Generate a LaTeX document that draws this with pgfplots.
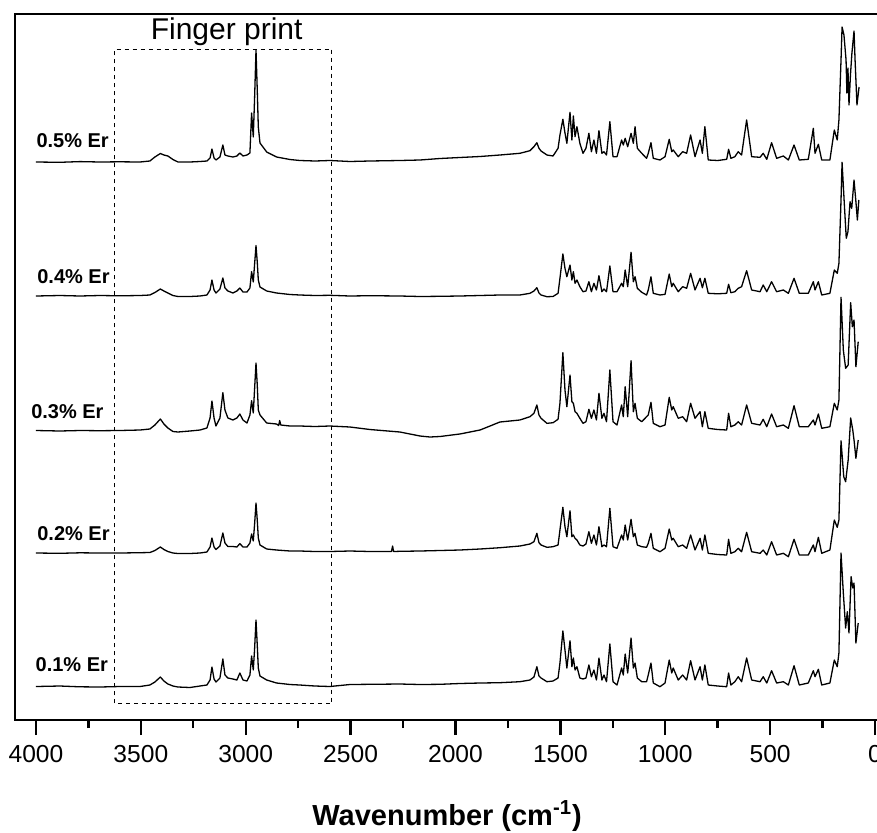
\documentclass[border=0pt]{standalone}
\usepackage{pgfplots}
\pgfplotsset{compat=1.18}
\usepackage{pgfplotstable}
\usepackage{fontspec}
\setmainfont{Liberation Sans}

% y = offset intensity (a.u.)
\pgfplotstableread{
x y
4000 558
3886 557.7
3790 558.4
3695 558
3600 558.2
3504 558
3457 559
3433 563
3407 566.5
3390 565
3371 564
3347 560.5
3323 558
3266 558
3218 558.5
3185 559
3170 562
3161 571
3151 562
3142 560
3123 563
3109 575
3099 565
3085 564
3061 563
3042 564
3028 567
3013 564
2994 565
2980 567
2972 607
2964 583
2958 620
2951 670
2945 630
2940 593
2932 577
2900 568
2853 563
2789 560.5
2742 559.5
2670 559
2599 559.5
2503 558.5
2408 559
2265 559.5
2169 560
2074 561.5
1979 562.5
1883 563.5
1788 565
1693 566.7
1645 569.3
1626 573.3
1612 577.3
1602 571.7
1592 569
1564 565
1535 564
1511 571.7
1502 585
1488 600.7
1478 587
1469 576.7
1454 607.7
1445 580
1438 604
1430 583.3
1421 593.3
1407 576.7
1392 566.7
1378 571.7
1364 586.7
1352 568.3
1340 580
1328 566.7
1316 589.3
1302 566.7
1292 568.3
1280 565
1264 598.3
1249 563.3
1230 563.3
1208 580
1200 575
1191 581.7
1179 573.3
1163 586.7
1152 576.7
1144 593.3
1133 571.7
1112 566.7
1089 561.7
1081 566.7
1068 577.3
1057 561.7
1025 560
1001 563.3
981 580.7
969 568.3
962 570
938 563.3
917 568.3
898 566.7
879 585
858 563.3
834 580
823 566.7
811 593.3
795 560
750 559.5
707 560.7
698 570.7
687 561.7
668 563.3
652 568.3
636 565
612 600
588 563.3
548 562.7
533 566.7
516 560.7
493 577.3
469 561.7
437 564
413 560
386 575
361 560
318 560.7
294 591.7
286 566.7
270 575.7
254 560
215 560
194 590
180 580
172 600
162 660
157 693
148 685
138 660
134 627
129 652
124 615
117 645
110 667
100 689
95 660
86 615
76 633
}\tabE

\pgfplotstableread{
x y
4000 424
3886 424.5
3790 424
3695 424.5
3600 424.2
3504 424.5
3457 425
3433 427.5
3407 431
3390 429
3371 427
3347 424.5
3323 423.5
3266 423.5
3218 424
3185 425
3170 430
3161 440
3151 430
3142 427
3123 431
3109 442
3099 432
3085 429
3061 427
3042 429
3028 432
3013 428
2994 428
2980 432
2972 448.4
2964 438
2958 455
2951 474.4
2945 458
2940 440
2932 433
2900 429
2853 427
2789 425.5
2742 425
2670 424.5
2599 424.7
2503 424
2408 424.3
2265 424
2169 423.5
2074 423.7
1979 424
1883 424.5
1788 425
1693 425
1645 426.7
1626 429
1612 432.3
1602 427
1592 425
1564 423.3
1535 423.5
1511 426.7
1502 441.7
1488 466
1478 451.7
1469 443.3
1454 455
1445 440
1438 448.3
1430 436.7
1421 440
1407 433.3
1392 428.3
1378 429
1364 438.3
1352 428.3
1340 436.7
1328 430
1316 444.3
1302 428.3
1292 431
1280 428.3
1264 454
1249 428.3
1230 428.3
1208 436.7
1200 433.3
1191 450
1179 433.3
1163 467.7
1152 438.3
1144 443.3
1133 431.7
1112 427.7
1089 425
1081 430
1068 443.3
1057 426.7
1025 425
1001 425.7
981 446
969 433.3
962 436.7
938 428.3
917 433.3
898 431.7
879 446.7
858 430
834 441.7
823 432.3
811 441.7
795 426.7
750 426.2
707 426.7
698 435.7
687 427.3
668 428.3
652 431.7
636 433.3
612 449.3
588 430
548 428.3
533 435
516 428.3
493 438.3
469 428.3
437 430
413 426.7
386 441.7
361 426.7
318 426.7
294 438.3
286 430
270 438.3
254 425
215 426.7
194 450
180 446.7
172 456.7
162 520
157 557.7
146 515
137 481.7
129 488.3
119 518.3
111 511.7
100 540
91 518.3
84 500
77 520
}\tabD

\pgfplotstableread{
x y
4000 289.5
3886 289
3790 289.5
3695 289.3
3600 289.5
3504 290
3457 291
3433 295
3407 301
3390 296
3371 292
3347 288.5
3323 288
3266 289
3218 290
3185 292
3170 302
3161 319
3151 302
3142 294
3123 302
3109 327.3
3099 310
3085 302
3061 300
3042 302
3028 306
3013 300
2994 297
2980 305
2972 319.3
2964 307
2958 330
2951 357
2945 335
2940 310
2932 305
2900 297
2853 296
2843 294.5
2838 299.5
2833 295
2789 294
2742 294
2670 293.5
2599 294
2503 293
2408 290.5
2265 288
2169 284
2122 283
2074 283.5
1979 286
1883 290
1788 298
1693 300
1645 303.3
1626 306.7
1612 315
1602 305
1592 301.7
1564 296.7
1535 297.3
1511 300.7
1502 316.7
1488 367.3
1478 330
1469 313.3
1454 345
1445 318.3
1438 316.7
1430 308.3
1421 306.7
1407 301.7
1392 296.7
1378 298.3
1364 310.7
1352 301.7
1340 310
1328 300
1316 326.7
1302 301.7
1292 306.7
1280 298.3
1264 350
1249 298.3
1230 295
1208 315
1200 303.3
1191 333.3
1179 303.3
1163 359.3
1152 308.3
1144 316.7
1133 301.7
1112 298.3
1089 303.3
1081 305
1068 317.7
1057 296.7
1025 293.3
1001 295
981 322.7
969 310
962 313.3
938 301.7
917 303.3
898 298.3
879 316.7
858 301.7
834 308.3
823 293.3
811 308.3
795 291.7
750 290.5
707 290
698 306.7
687 293.3
668 295
652 298.3
636 295
612 315
588 296.7
548 295
533 300.7
516 293.3
493 306
469 293.3
437 295
413 291.7
386 314.3
361 293.3
318 293.3
294 300
286 295
270 306
254 291.7
215 293.3
194 316.7
180 310
172 320
162 422.7
151 370
140 351.7
128 355
116 417.3
108 393.3
100 400
91 353.3
80 378.3
}\tabC

\pgfplotstableread{
x y
4000 167
3886 166.7
3790 167.2
3695 167
3600 167
3504 167.3
3457 167.5
3433 169.5
3407 173
3390 170.5
3371 168.5
3347 167
3323 166.5
3266 166.5
3218 167
3185 168
3170 173
3161 182
3151 173
3142 170.5
3123 174
3109 187
3099 177
3085 173.5
3061 173.5
3042 173
3028 176.4
3013 173
2994 173
2980 177
2972 186
2964 179
2958 195
2951 217
2945 200
2940 182
2932 175
2900 171
2853 170
2789 169
2742 169
2670 168.5
2599 168.5
2503 169
2408 168.5
2305 168.5
2300 174
2295 168.5
2265 168.7
2169 169
2074 169.5
1979 170
1883 171
1788 172.3
1693 174
1645 176
1626 178.3
1612 186.7
1602 177.3
1592 175
1564 172.7
1535 173.3
1511 175
1502 190
1488 212.7
1478 193.3
1469 183.3
1454 209.3
1445 183.3
1438 185
1430 181.7
1421 180
1407 175
1392 174
1378 176
1364 188.3
1352 176.7
1340 185
1328 175
1316 193.3
1302 173.3
1292 175
1280 173.3
1264 211.7
1249 173.3
1230 171.7
1208 185
1200 180
1191 195
1179 180
1163 200.7
1152 183.3
1144 186.7
1133 175
1112 173.3
1089 172.7
1081 176.7
1068 186.7
1057 171.7
1025 168.3
1001 171.7
981 191
969 180
962 181.7
938 173.3
917 175
898 171.7
879 185
858 170
834 181.7
823 170
811 185
795 166.7
750 165.5
707 165
698 180.7
687 166.7
668 168.3
652 171.7
636 168.3
612 187.7
588 168.3
548 166.7
533 170
516 165
493 178.3
469 165
437 166.7
413 163.3
386 180.7
361 165
318 165
294 175
286 168.3
270 182.7
254 166.7
215 170
194 200
180 192.7
172 200
162 279.3
149 243.3
140 238.3
128 260
116 302
106 290
100 280
91 261.7
80 280
}\tabB

\pgfplotstableread{
x y
4000 33.5
3886 34
3790 33.2
3695 33
3600 33.5
3504 33.5
3457 35
3433 38
3407 43
3390 39
3371 36
3347 34
3323 33
3266 32.5
3218 34
3185 35
3170 40
3161 53
3151 41
3142 38
3123 42
3109 61
3099 45
3085 42
3061 41
3042 40
3028 47
3013 40
2994 39
2980 45
2972 64
2964 50
2958 70
2951 100
2945 75
2940 52
2932 44
2900 40
2853 37
2789 35.5
2742 35
2670 34
2599 33.5
2503 35.5
2408 35.7
2265 36
2169 35.5
2074 35.7
1979 36.5
1883 37
1788 37.3
1693 38.3
1645 40
1626 43
1612 53.3
1602 44
1592 42
1564 38.3
1535 39
1511 42
1502 57
1488 89
1478 70
1469 52
1454 79.3
1445 53.3
1438 62
1430 50
1421 53.3
1407 42
1392 41
1378 42
1364 55
1352 43.3
1340 50
1328 40
1316 62
1302 40
1292 45
1280 38.3
1264 76
1249 38.3
1230 35
1208 52
1200 45
1191 66
1179 47
1163 82
1152 52
1144 57
1133 42
1112 38.3
1089 38.3
1081 45
1068 57
1057 37
1025 33.3
1001 37
981 60
969 47
962 52
938 40
917 45
898 40
879 59.3
858 40
834 53.3
823 40
811 55
795 35
750 34
707 33.3
698 47
687 35
668 38.3
652 43.3
636 38.3
612 62
588 40
548 38.3
533 43.3
516 37
493 49.3
469 37
437 38.3
413 35
386 54.3
361 35
318 37
294 49.3
286 43.3
270 50.7
254 35
215 37
194 60
180 53.3
172 67
162 167
151 127
140 92
132 108.3
124 87
114 143.3
106 132
100 137
91 77
80 97
}\tabA

\begin{document}
\begin{tikzpicture}
\begin{axis}[
  at={(0,0)}, anchor=south west,
  scale only axis, width=432.1pt, height=353pt,
  xmin=-20, xmax=4100, ymin=0, ymax=706,
  x dir=reverse,
  axis line style={line width=1.4pt},
  xtick={0,500,...,4000}, minor x tick num=1,
  ytick=\empty,
  xtick pos=bottom,
  tick align=outside,
  major tick length=7.5pt, minor tick length=4pt,
  every tick/.style={line width=1.2pt, black},
  xticklabel style={font=\fontsize{12.3}{14}\selectfont, yshift=-1.5pt, /pgf/number format/1000 sep={}, /pgf/number format/assume math mode=true},
  xlabel={\textbf{Wavenumber (cm\textsuperscript{-1})}},
  xlabel style={font=\fontsize{14.5}{17}\selectfont, at={(axis description cs:0.5,0)}, anchor=base, yshift=-52.5pt},
  clip=false,
]
\addplot[black, line width=0.65pt, line join=round] table[x=x,y=y] {\tabE};
\addplot[black, line width=0.65pt, line join=round] table[x=x,y=y] {\tabD};
\addplot[black, line width=0.65pt, line join=round] table[x=x,y=y] {\tabC};
\addplot[black, line width=0.65pt, line join=round] table[x=x,y=y] {\tabB};
\addplot[black, line width=0.65pt, line join=round] table[x=x,y=y] {\tabA};
\draw[black, line width=0.5pt, dash pattern=on 2pt off 2pt] (axis cs:3624,16.7) rectangle (axis cs:2589,671);
\node[anchor=base, font=\fontsize{15}{18}\selectfont, inner sep=0pt] at (axis cs:3091,681) {Finger print};
\node[anchor=base east, font=\bfseries\fontsize{10}{12}\selectfont, inner sep=0pt] at (axis cs:3651,573) {0.5\% Er};
\node[anchor=base east, font=\bfseries\fontsize{10}{12}\selectfont, inner sep=0pt] at (axis cs:3647,437) {0.4\% Er};
\node[anchor=base east, font=\bfseries\fontsize{10}{12}\selectfont, inner sep=0pt] at (axis cs:3676,302) {0.3\% Er};
\node[anchor=base east, font=\bfseries\fontsize{10}{12}\selectfont, inner sep=0pt] at (axis cs:3647,180) {0.2\% Er};
\node[anchor=base east, font=\bfseries\fontsize{10}{12}\selectfont, inner sep=0pt] at (axis cs:3655,48.3) {0.1\% Er};
\end{axis}
\pgfresetboundingbox
\useasboundingbox (-7.5pt,-56pt) rectangle (431pt,360pt);
\end{tikzpicture}
\end{document}
